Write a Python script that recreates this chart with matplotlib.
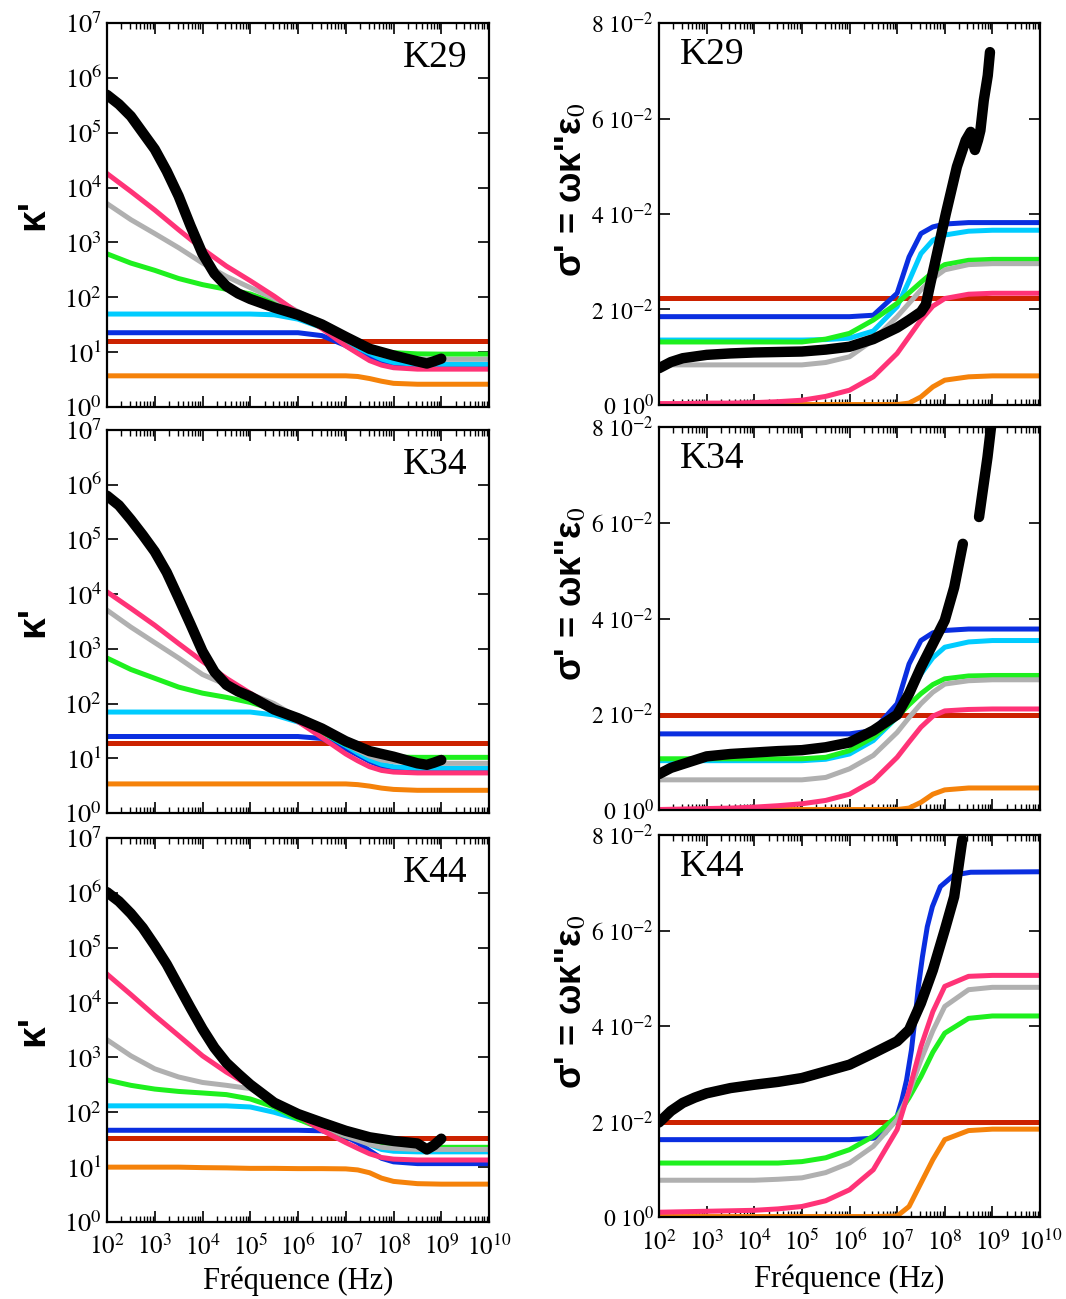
import matplotlib
matplotlib.use("Agg")
import numpy as np
import matplotlib.pyplot as plt
from matplotlib.ticker import FixedLocator, NullLocator, LogLocator

# frequency grid (Hz) shared by the coloured curves
FREQ = [1e2, 3.16e2, 1e3, 3.16e3, 1e4, 3.16e4, 1e5, 3.16e5, 1e6, 3.16e6,
        1e7, 1.78e7, 3.16e7, 5.62e7, 1e8, 3.16e8, 1e9, 1e10]
BLACK_KP_F = [1e2, 1.78e2, 3.16e2, 5.62e2, 1e3, 1.78e3, 3.16e3, 5.62e3, 1e4, 1.78e4,
              3.16e4, 5.62e4, 1e5, 3.16e5, 1e6, 3.16e6, 1e7, 3.16e7, 1e8, 3.16e8, 5e8, 7e8, 1e9]

# ---- kappa' (left column) ----
k29_kp_red = 16.1
k29_kp_blue = [22.6, 22.6, 22.6, 22.6, 22.6, 22.6, 22.6, 22.6, 22.6, 20, 13.2, 10, 7.9, 6.3, 5.5, 5.2, 5.2, 5.2]
k29_kp_cyan = [49.5, 49.5, 49.5, 49.5, 49.5, 49.5, 49.5, 48, 40, 28, 16, 12, 9.5, 7.5, 6.5, 6.0, 6.0, 6.0]
k29_kp_green = [620, 420, 310, 220, 170, 140, 115, 80, 45, 28, 16.5, 13.5, 11.5, 10.3, 9.8, 9.3, 9.2, 9.2]
k29_kp_gray = [5100, 2600, 1450, 800, 420, 240, 150, 95, 55, 33, 17, 13, 10.5, 8.8, 8.0, 7.5, 7.4, 7.4]
k29_kp_pink = [18000, 8500, 3900, 1700, 760, 370, 200, 105, 52, 27, 13, 9.5, 7.0, 5.8, 5.2, 4.9, 4.9, 4.9]
k29_kp_orange = [3.7, 3.7, 3.7, 3.7, 3.7, 3.7, 3.7, 3.7, 3.7, 3.7, 3.7, 3.6, 3.3, 2.95, 2.7, 2.6, 2.6, 2.6]
k29_kp_black = [4.9e5, 3.3e5, 2.0e5, 1.0e5, 5.0e4, 2.0e4, 7000, 2000, 620, 270,
                160, 117, 93, 65, 48, 32, 19, 11.5, 8.7, 6.8, 6.2, 6.8, 7.6]

k34_kp_red = 19
k34_kp_blue = [25, 25, 25, 25, 25, 25, 25, 25, 25, 23, 15, 11.5, 8.8, 7.2, 6.5, 6.2, 6.2, 6.2]
k34_kp_cyan = [70, 70, 70, 70, 70, 70, 70, 62, 46, 30, 17, 12.5, 9.5, 7.8, 7.0, 6.6, 6.6, 6.6]
k34_kp_green = [680, 420, 290, 200, 155, 130, 105, 78, 48, 30, 18, 14.5, 12.5, 11, 10.5, 10.4, 10.4, 10.4]
k34_kp_gray = [5100, 2500, 1300, 680, 340, 220, 150, 100, 55, 34, 18.5, 14, 11, 9.3, 8.7, 8.2, 8.1, 8.1]
k34_kp_pink = [11000, 5500, 2700, 1250, 590, 290, 155, 85, 47, 24, 12, 9, 7, 6, 5.6, 5.4, 5.4, 5.4]
k34_kp_orange = [3.4, 3.4, 3.4, 3.4, 3.4, 3.4, 3.4, 3.4, 3.4, 3.4, 3.4, 3.3, 3.1, 2.85, 2.7, 2.6, 2.6, 2.6]
k34_kp_black = [6.3e5, 4.2e5, 2.3e5, 1.2e5, 6.0e4, 2.5e4, 8500, 2800, 900, 380,
                220, 166, 135, 78, 54, 35, 20.5, 13.5, 10.7, 8.1, 7.6, 8.3, 9.3]

k44_kp_red = 33.7
k44_kp_blue = [47, 47, 47, 47, 47, 47, 47, 47, 47, 46, 36, 28, 20, 14.5, 12.5, 11.6, 11.6, 11.6]
k44_kp_cyan = [131, 131, 131, 131, 131, 131, 125, 100, 75, 55, 40, 33, 26, 21, 19.5, 19, 19, 19]
k44_kp_green = [387, 310, 265, 240, 225, 210, 175, 125, 75, 50, 37, 32, 28, 25, 24, 23, 23, 23]
k44_kp_gray = [2100, 1070, 620, 440, 350, 310, 270, 150, 88, 55, 37, 31, 26, 23, 22, 21, 21, 21]
k44_kp_pink = [33000, 14000, 5800, 2500, 1070, 540, 300, 160, 87, 47, 28, 22, 17.5, 15, 14, 13.5, 13.5, 13.5]
k44_kp_orange = [10, 10, 10, 10, 9.8, 9.7, 9.5, 9.5, 9.4, 9.4, 9.3, 8.9, 7.9, 6.3, 5.5, 5.0, 4.9, 4.9]
k44_kp_black = [1.03e6, 7.0e5, 4.2e5, 2.3e5, 1.1e5, 5.0e4, 2.0e4, 8000, 3300, 1500,
                800, 500, 320, 150, 93, 65, 46, 35, 30, 27, 21, 25, 33]

# ---- sigma' (right column) ----
k29_sg_red = 0.0225
k29_sg_blue = [0.0185, 0.0185, 0.0185, 0.0185, 0.0185, 0.0185, 0.0185, 0.0185, 0.0185,
               0.0188, 0.0234, 0.0310, 0.0359, 0.0373, 0.0379, 0.0382, 0.0382, 0.0382]
k29_sg_cyan = [0.0136, 0.0136, 0.0136, 0.0136, 0.0136, 0.0136, 0.0136, 0.0137, 0.0140,
               0.0155, 0.0206, 0.0260, 0.0317, 0.0345, 0.0356, 0.0364, 0.0366, 0.0366]
k29_sg_green = [0.0132, 0.0132, 0.0132, 0.0132, 0.0132, 0.0132, 0.0132, 0.0138, 0.0150,
                0.0178, 0.0213, 0.0235, 0.0257, 0.0278, 0.0294, 0.0303, 0.0305, 0.0305]
k29_sg_gray = [0.0084, 0.0084, 0.0084, 0.0084, 0.0084, 0.0084, 0.0084, 0.0089, 0.0101,
               0.0136, 0.0185, 0.0213, 0.0241, 0.0265, 0.0283, 0.0294, 0.0296, 0.0296]
k29_sg_pink = [0.0003, 0.0003, 0.0004, 0.0004, 0.0005, 0.0007, 0.0010, 0.0018, 0.0031,
               0.0059, 0.0108, 0.0143, 0.0178, 0.0207, 0.0223, 0.0232, 0.0234, 0.0234]
k29_sg_orange = [0.0001, 0.0001, 0.0001, 0.0001, 0.0001, 0.0001, 0.0001, 0.0001, 0.0001,
                 0.0001, 0.0001, 0.0004, 0.0017, 0.0038, 0.0052, 0.0059, 0.0061, 0.0061]
k29_sg_black_f = [1e2, 1.78e2, 3.16e2, 1e3, 3.16e3, 1e4, 3.16e4, 1e5, 3.16e5, 1e6, 3.16e6,
                  1e7, 1.78e7, 3.16e7, 4e7, 5e7, 6e7, 1.05e8, 1.8e8, 2.75e8, 3.5e8, 4e8,
                  4.3e8, 5e8, 5.6e8, 6.6e8, 8e8, 8.9e8]
k29_sg_black = [0.0077, 0.0090, 0.0098, 0.0105, 0.0108, 0.0110, 0.0111, 0.0112, 0.0116,
                0.0122, 0.0138, 0.0162, 0.0178, 0.0195, 0.0210, 0.0255, 0.0290, 0.0400,
                0.0499, 0.0554, 0.0572, 0.0545, 0.0534, 0.0555, 0.0575, 0.0638, 0.0690, 0.0739]

k34_sg_red = 0.0199
k34_sg_blue = [0.0159, 0.0159, 0.0159, 0.0159, 0.0159, 0.0159, 0.0159, 0.0159, 0.0159,
               0.0166, 0.0222, 0.0305, 0.0354, 0.0370, 0.0375, 0.0378, 0.0378, 0.0378]
k34_sg_cyan = [0.0103, 0.0103, 0.0103, 0.0103, 0.0103, 0.0103, 0.0103, 0.0106, 0.0117,
               0.0145, 0.0194, 0.0240, 0.0284, 0.0318, 0.0340, 0.0351, 0.0354, 0.0354]
k34_sg_green = [0.0107, 0.0107, 0.0107, 0.0107, 0.0107, 0.0107, 0.0107, 0.0110, 0.0124,
                0.0152, 0.0194, 0.0220, 0.0243, 0.0262, 0.0274, 0.0280, 0.0281, 0.0281]
k34_sg_gray = [0.0063, 0.0063, 0.0063, 0.0063, 0.0063, 0.0063, 0.0063, 0.0068, 0.0086,
               0.0114, 0.0162, 0.0193, 0.0222, 0.0246, 0.0263, 0.0270, 0.0272, 0.0272]
k34_sg_pink = [0.0001, 0.0002, 0.0003, 0.0004, 0.0006, 0.0009, 0.0013, 0.0020, 0.0033,
               0.0061, 0.0110, 0.0142, 0.0173, 0.0196, 0.0207, 0.0210, 0.0211, 0.0211]
k34_sg_orange = [0.0001, 0.0001, 0.0001, 0.0001, 0.0001, 0.0001, 0.0001, 0.0001, 0.0001,
                 0.0001, 0.0001, 0.0004, 0.0016, 0.0033, 0.0042, 0.0046, 0.0046, 0.0046]
k34_sg_black_f = [1e2, 1.78e2, 3.16e2, 1e3, 3.16e3, 1e4, 3.16e4, 1e5, 3.16e5, 1e6, 3.16e6,
                  1e7, 1.78e7, 3.16e7, 5.62e7, 1e8, 1.58e8, 2.4e8, 3.5e8,
                  5.25e8, 6.3e8, 7.9e8, 9.3e8, 1.12e9]
k34_sg_black = [0.0075, 0.0088, 0.0096, 0.0112, 0.0117, 0.0120, 0.0123, 0.0125, 0.0131,
                0.0141, 0.0166, 0.0199, 0.0243, 0.0298, 0.0347, 0.0396, 0.0465, 0.0556,
                np.nan, 0.0612, 0.0668, 0.0737, 0.0797, 0.0850]

k44_sg_red = 0.0200
k44_sg_blue_f = [1e2, 1e6, 3.16e6, 5.62e6, 1e7, 1.26e7, 1.58e7, 2e7, 2.4e7, 2.8e7, 3.4e7,
                 4.3e7, 5.5e7, 8.1e7, 1.55e8, 3.5e8, 1e10]
k44_sg_blue = [0.0162, 0.0162, 0.0165, 0.0176, 0.0211, 0.0245, 0.0287, 0.0350, 0.0420,
               0.0483, 0.0545, 0.0608, 0.0650, 0.0692, 0.0716, 0.0722, 0.0723]
k44_sg_green = [0.0113, 0.0113, 0.0113, 0.0113, 0.0113, 0.0113, 0.0116, 0.0124, 0.0141,
                0.0169, 0.0211, 0.0250, 0.0294, 0.0345, 0.0385, 0.0416, 0.0421, 0.0421]
k44_sg_gray = [0.0077, 0.0077, 0.0077, 0.0077, 0.0077, 0.0079, 0.0082, 0.0093, 0.0113,
               0.0148, 0.0204, 0.0260, 0.0329, 0.0390, 0.0441, 0.0476, 0.0481, 0.0481]
k44_sg_pink = [0.0010, 0.0011, 0.0012, 0.0013, 0.0014, 0.0017, 0.0022, 0.0034, 0.0057,
               0.0099, 0.0183, 0.0265, 0.0357, 0.0430, 0.0483, 0.0504, 0.0506, 0.0506]
k44_sg_orange = [0.0001, 0.0001, 0.0001, 0.0001, 0.0001, 0.0001, 0.0001, 0.0001, 0.0001,
                 0.0001, 0.0002, 0.0022, 0.0071, 0.0120, 0.0162, 0.0181, 0.0184, 0.0184]
k44_sg_black_f = [1e2, 1.78e2, 3.16e2, 5.62e2, 1e3, 3.16e3, 1e4, 3.16e4, 1e5, 3.16e5, 1e6,
                  3.16e6, 1e7, 1.78e7, 3.16e7, 5.62e7, 1e8, 1.58e8, 2.34e8]
k44_sg_black = [0.0198, 0.0222, 0.0239, 0.0250, 0.0259, 0.0270, 0.0277, 0.0283, 0.0291,
                0.0305, 0.0319, 0.0343, 0.0368, 0.0392, 0.0448, 0.0517, 0.0601, 0.0671, 0.0790]

SAMPLES = ["K29", "K34", "K44"]
C_RED, C_BLUE, C_CYAN = "#cc2200", "#0a2ee0", "#00ccff"
C_GREEN, C_GRAY, C_PINK, C_ORANGE = "#1ef01e", "#b0b0b0", "#ff3377", "#f5820a"

plt.rcParams["font.family"] = "Liberation Serif"
plt.rcParams["mathtext.fontset"] = "stix"

fig = plt.figure(figsize=(10.66, 12.99), dpi=100)
W, H = 1066, 1299
left_rows = [(23, 407), (430, 813), (838, 1222)]
right_rows = [(23, 405), (427, 810), (835, 1217)]

LW = 3.6
BLW = 7.5


def style_axes(ax):
    ax.set_xscale("log")
    ax.set_xlim(1e2, 1e10)
    ax.xaxis.set_major_locator(FixedLocator([10.0 ** e for e in range(2, 11)]))
    ax.xaxis.set_minor_locator(LogLocator(base=10, subs=np.arange(2, 10), numticks=50))
    ax.tick_params(which="both", direction="in", top=True, right=True)
    ax.tick_params(which="major", length=8, width=1.2)
    ax.tick_params(which="minor", length=4, width=1.0)
    ax.tick_params(axis="x", which="major", pad=9)
    for s in ax.spines.values():
        s.set_linewidth(1.6)
    ax.yaxis.set_minor_locator(NullLocator())


kp_data = [
    (k29_kp_red, k29_kp_blue, k29_kp_cyan, k29_kp_green, k29_kp_gray, k29_kp_pink, k29_kp_orange, k29_kp_black),
    (k34_kp_red, k34_kp_blue, k34_kp_cyan, k34_kp_green, k34_kp_gray, k34_kp_pink, k34_kp_orange, k34_kp_black),
    (k44_kp_red, k44_kp_blue, k44_kp_cyan, k44_kp_green, k44_kp_gray, k44_kp_pink, k44_kp_orange, k44_kp_black),
]
sg_data = [
    (k29_sg_red, FREQ, k29_sg_blue, k29_sg_cyan, k29_sg_green, k29_sg_gray, k29_sg_pink, k29_sg_orange, k29_sg_black_f, k29_sg_black),
    (k34_sg_red, FREQ, k34_sg_blue, k34_sg_cyan, k34_sg_green, k34_sg_gray, k34_sg_pink, k34_sg_orange, k34_sg_black_f, k34_sg_black),
    (k44_sg_red, k44_sg_blue_f, k44_sg_blue, None, k44_sg_green, k44_sg_gray, k44_sg_pink, k44_sg_orange, k44_sg_black_f, k44_sg_black),
]

x_labels = [r"$10^{%d}$" % e for e in range(2, 11)]

for i, name in enumerate(SAMPLES):
    # left: kappa'
    top, bot = left_rows[i]
    ax = fig.add_axes([107 / W, 1 - bot / H, (489 - 107) / W, (bot - top) / H])
    red, blue, cyan, green, gray, pink, orange, black = kp_data[i]
    ax.plot(FREQ, orange, color=C_ORANGE, lw=LW)
    ax.axhline(red, color=C_RED, lw=LW)
    ax.plot(FREQ, blue, color=C_BLUE, lw=LW)
    ax.plot(FREQ, cyan, color=C_CYAN, lw=LW)
    ax.plot(FREQ, green, color=C_GREEN, lw=LW)
    ax.plot(FREQ, gray, color=C_GRAY, lw=LW)
    ax.plot(FREQ, pink, color=C_PINK, lw=LW)
    ax.plot(BLACK_KP_F, black, color="black", lw=BLW, solid_capstyle="round", solid_joinstyle="round")
    ax.set_yscale("log")
    ax.set_ylim(1, 1e7)
    style_axes(ax)
    ax.yaxis.set_major_locator(FixedLocator([10.0 ** e for e in range(0, 8)]))
    ax.set_yticklabels([r"$10^{%d}$" % e for e in range(0, 8)], fontsize=19)
    if i == 2:
        ax.set_xticklabels(x_labels, fontsize=18)
        ax.set_xlabel("Fréquence (Hz)", fontsize=22)
        ax.xaxis.set_label_coords(0.5, -0.115)
    else:
        ax.tick_params(labelbottom=False)
    ax.text(-0.194, 0.5, "κ'", transform=ax.transAxes, rotation=90, ha="center", va="center",
            fontsize=28, fontweight="bold", family="Liberation Sans")
    ax.text(0.945, 0.909, name, transform=ax.transAxes, ha="right", va="center", fontsize=27)

    # right: sigma'
    top, bot = right_rows[i]
    ax = fig.add_axes([659 / W, 1 - bot / H, (1040 - 659) / W, (bot - top) / H])
    red, blue_f, blue, cyan, green, gray, pink, orange, bf, black = sg_data[i]
    ax.plot(FREQ, orange, color=C_ORANGE, lw=LW)
    ax.axhline(red, color=C_RED, lw=LW)
    ax.plot(blue_f, blue, color=C_BLUE, lw=LW)
    if cyan is not None:
        ax.plot(FREQ, cyan, color=C_CYAN, lw=LW)
    ax.plot(FREQ, green, color=C_GREEN, lw=LW)
    ax.plot(FREQ, gray, color=C_GRAY, lw=LW)
    ax.plot(FREQ, pink, color=C_PINK, lw=LW)
    ax.plot(bf, black, color="black", lw=BLW, solid_capstyle="round", solid_joinstyle="round")
    ax.set_ylim(0, 0.08)
    style_axes(ax)
    ax.yaxis.set_major_locator(FixedLocator([0, 0.02, 0.04, 0.06, 0.08]))
    ax.set_yticklabels([r"$0\ 10^{0}$", r"$2\ 10^{-2}$", r"$4\ 10^{-2}$",
                        r"$6\ 10^{-2}$", r"$8\ 10^{-2}$"], fontsize=17)
    if i == 2:
        ax.set_xticklabels(x_labels, fontsize=18)
        ax.set_xlabel("Fréquence (Hz)", fontsize=22)
        ax.xaxis.set_label_coords(0.5, -0.125)
    else:
        ax.tick_params(labelbottom=False)
    ax.text(-0.228, 0.563, "σ' = ωκ''ε$_0$", transform=ax.transAxes, rotation=90,
            ha="center", va="center", fontsize=26, fontweight="bold", family="Liberation Sans")
    ax.text(0.055, 0.916, name, transform=ax.transAxes, ha="left", va="center", fontsize=27)

fig.savefig("out.png", dpi=100)
